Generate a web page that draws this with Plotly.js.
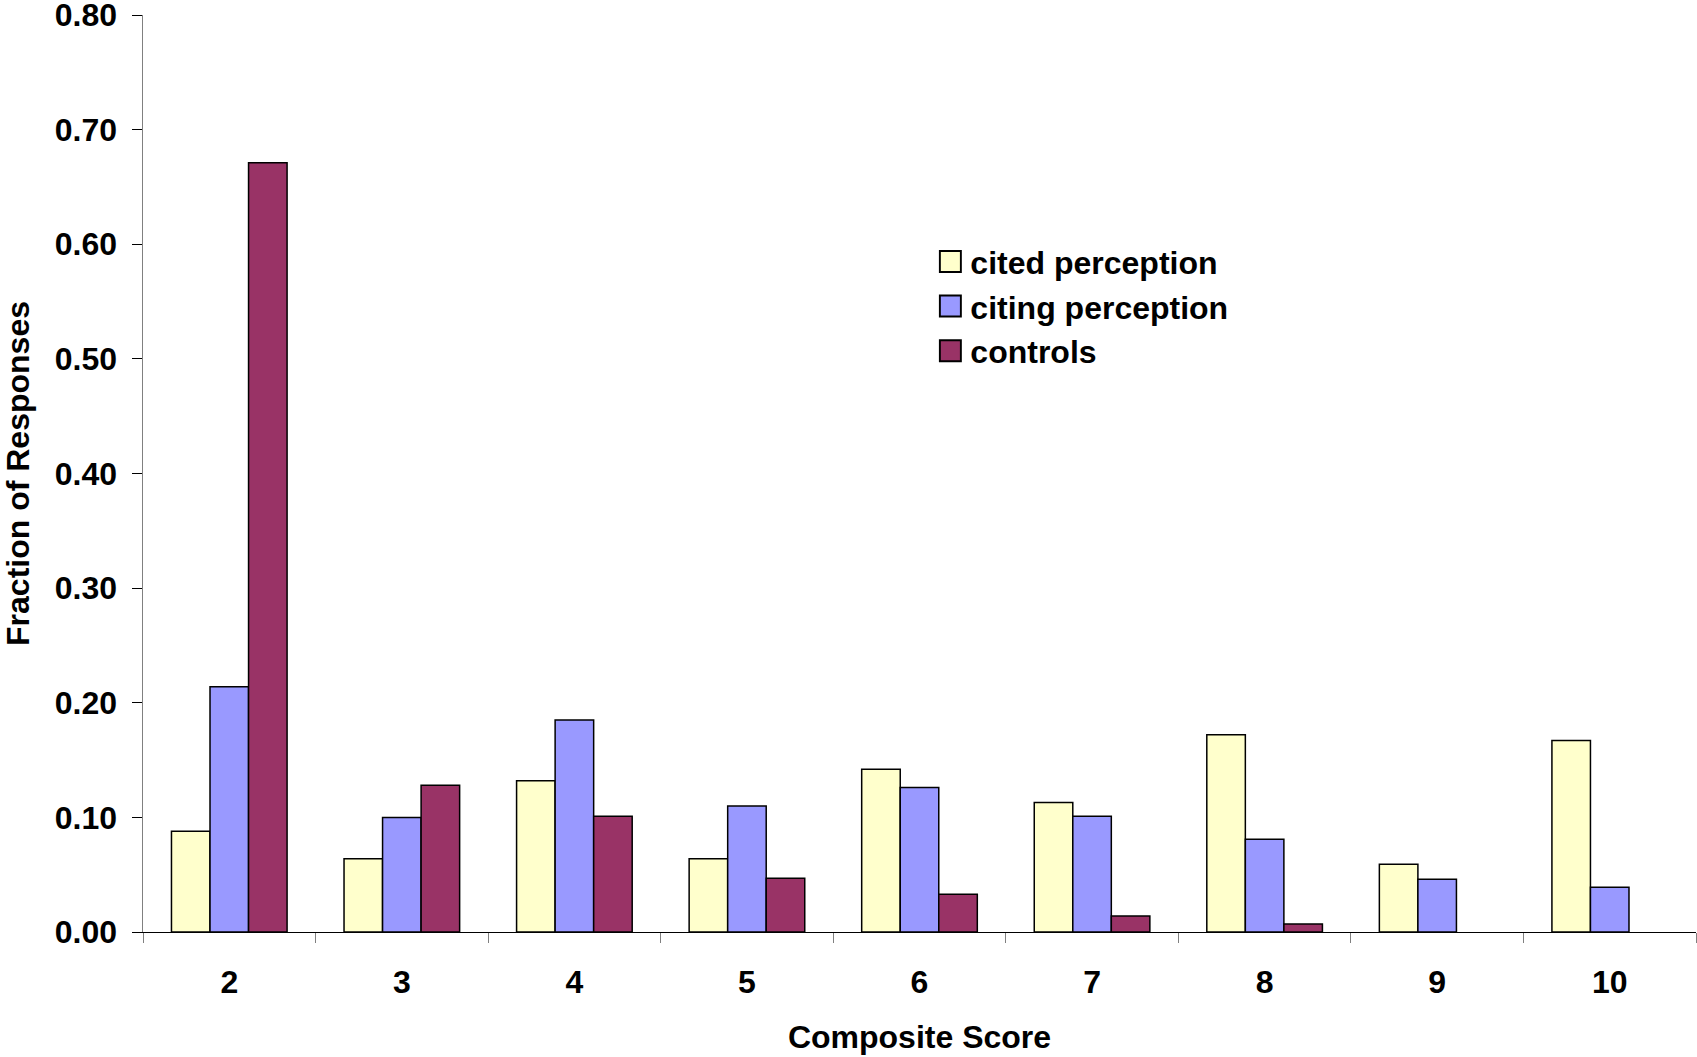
<!DOCTYPE html>
<html>
<head>
<meta charset="utf-8">
<script src="https://cdn.plot.ly/plotly-3.0.1.min.js"></script>
<style>html,body{margin:0;padding:0;background:#fff;}#chart{width:1697px;height:1057px;}</style>
</head>
<body>
<div id="chart"></div>
<script>
const categories = ["2","3","4","5","6","7","8","9","10"];
const citedPerception = [0.088, 0.064, 0.132, 0.064, 0.142, 0.113, 0.172, 0.059, 0.167];
const citingPerception = [0.214, 0.100, 0.185, 0.110, 0.126, 0.101, 0.081, 0.046, 0.039];
const controls = [0.671, 0.128, 0.101, 0.047, 0.033, 0.014, 0.007, null, null];
const yTickVals = [0, 0.1, 0.2, 0.3, 0.4, 0.5, 0.6, 0.7, 0.8];
const yTickText = ["0.00","0.10","0.20","0.30","0.40","0.50","0.60","0.70","0.80"];

const FONT = "Liberation Sans, Arial, sans-serif";
const FS = 32;
const lineStyle = {color: "#000000", width: 1.5};

const traces = [
  {type: "bar", name: "cited perception", x: categories, y: citedPerception,
   marker: {color: "#FFFFCC", line: lineStyle}},
  {type: "bar", name: "citing perception", x: categories, y: citingPerception,
   marker: {color: "#9999FF", line: lineStyle}},
  {type: "bar", name: "controls", x: categories, y: controls,
   marker: {color: "#993366", line: lineStyle}}
];

const layout = {
  width: 1697, height: 1057,
  margin: {l: 143, r: 1, t: 15, b: 125},
  paper_bgcolor: "#ffffff", plot_bgcolor: "#ffffff",
  font: {family: FONT, size: FS, color: "#000000", weight: "bold"},
  barmode: "group", bargap: 0.33, bargroupgap: 0,
  showlegend: true,
  legend: {x: 0.507, y: 0.761, xanchor: "left", yanchor: "top",
           font: {family: FONT, size: FS, color: "#000", weight: "bold"},
           bgcolor: "rgba(0,0,0,0)", traceorder: "normal", itemwidth: 30},
  xaxis: {
    type: "category", tickson: "boundaries", ticks: "outside", ticklen: 10,
    tickcolor: "#808080", showline: true, linecolor: "#000000", linewidth: 1,
    showgrid: false, zeroline: false, automargin: false,
    tickfont: {family: FONT, size: FS, weight: "bold"},
    ticklabelstandoff: 22,
    title: {text: "Composite Score", font: {family: FONT, size: FS, weight: "bold"}, standoff: 26}
  },
  yaxis: {
    range: [0, 0.8], tickvals: yTickVals, ticktext: yTickText,
    ticks: "outside", ticklen: 10, tickcolor: "#000000",
    showline: true, linecolor: "#808080", linewidth: 1.5,
    showgrid: false, zeroline: false, automargin: "left",
    ticklabeloverflow: "allow",
    tickfont: {family: FONT, size: FS, weight: "bold"},
    ticklabelstandoff: 8,
    title: {text: "Fraction of Responses", font: {family: FONT, size: FS, weight: "bold"}, standoff: 20}
  }
};

Plotly.newPlot("chart", traces, layout, {displayModeBar: false, staticPlot: true}).then(function(gd){
  gd.querySelectorAll(".legendpoints path").forEach(function(p){
    const t = p.getAttribute("transform") || "";
    p.setAttribute("transform", t + " scale(1.75)");
    p.style.strokeWidth = "1.1px";
  });
});
</script>
</body>
</html>
